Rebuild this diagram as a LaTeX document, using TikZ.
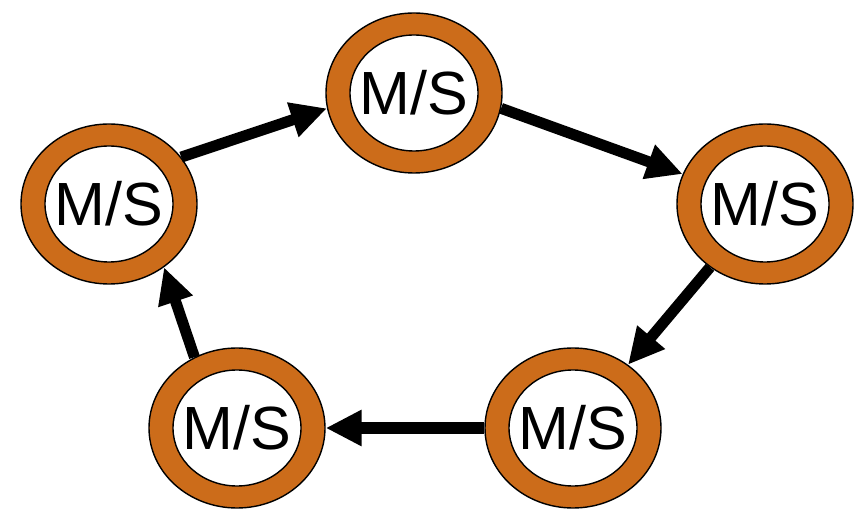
\documentclass[tikz,border=0pt]{standalone}
\usepackage{fontspec}
\setmainfont{Liberation Sans}
\usetikzlibrary{shapes.geometric,arrows.meta}
\definecolor{ringorange}{RGB}{204,108,26}
\tikzset{
  ring/.style={ellipse, draw=black, line width=1.4pt, fill=ringorange,
    minimum width=176pt, minimum height=160pt, inner sep=0pt},
  core/.style={ellipse, draw=black, line width=1.4pt, fill=white,
    minimum width=128pt, minimum height=116pt, inner sep=0pt,
    label={[font=\fontsize{61}{61}\selectfont, inner sep=0pt]center:M/S}},
  flow/.style={line width=11pt, -{Triangle[length=36pt,width=34pt]}}
}
\begin{document}
\begin{tikzpicture}[x=1pt,y=1pt]
  \useasboundingbox (0,0) rectangle (866,519);
  % stations arranged in a ring
  \node[ring] (T)  at (414,426) {};
  \node[ring] (L)  at (109,315) {};
  \node[ring] (R)  at (765,315) {};
  \node[ring] (BL) at (237,91)  {};
  \node[ring] (BR) at (573,91)  {};
  \node[core] (Tc)  at (T)  {};
  \node[core] (Lc)  at (L)  {};
  \node[core] (Rc)  at (R)  {};
  \node[core] (BLc) at (BL) {};
  \node[core] (BRc) at (BR) {};
  % token passing direction
  \draw[flow] (L.33)   -- (T.190);
  \draw[flow] (T.350)  -- (R.160);
  \draw[flow] (R.229)  -- (BR.49);
  \draw[flow] (BR.180) -- (BL.0);
  \draw[flow] (BL.121) -- (L.311);
\end{tikzpicture}
\end{document}
